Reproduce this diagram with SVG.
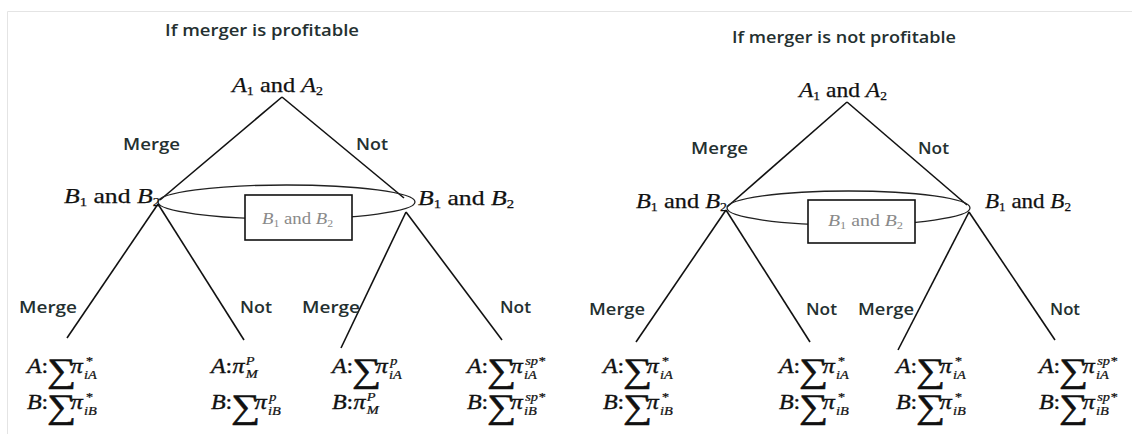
<svg xmlns="http://www.w3.org/2000/svg" width="1132" height="434" viewBox="0 0 1132 434">
<style>
.bg{fill:#ffffff}
.frame{stroke:#e4e4e4;stroke-width:1;fill:none}
.title{font-family:"Open Sans","Liberation Sans",sans-serif;font-size:17px;font-weight:600;fill:#243030}
.lbl{font-family:"Open Sans","Liberation Sans",sans-serif;font-size:17px;font-weight:600;fill:#243030}
.node{font-family:"Liberation Serif",serif;font-size:21px;fill:#111;stroke:#111;stroke-width:0.25}
.it{font-style:italic}
.sub{font-size:12px}
.box{fill:#fff;stroke:#111;stroke-width:1.6}
.boxt{font-family:"Liberation Serif",serif;font-size:16px;fill:#8a8a8a}
.ell{fill:none;stroke:#222;stroke-width:1.3}
.edge{stroke:#111;stroke-width:1.6;fill:none}
.pv{font-family:"Liberation Serif",serif;font-size:20px;font-style:italic;fill:#111;stroke:#111;stroke-width:0.35}
.pc{font-family:"Liberation Serif",serif;font-size:20px;fill:#111;stroke:#111;stroke-width:0.3}
.sig{font-family:"Liberation Serif",serif;font-size:34px;fill:#111;stroke:#111;stroke-width:0.5}
.ps{font-family:"Liberation Serif",serif;font-size:12px;font-style:italic;fill:#111;stroke:#111;stroke-width:0.25}
</style>
<defs>
<g id="sumA"><text class="pv" x="0" y="0">A</text><text class="pc" x="12" y="0">:</text><text class="sig" x="16.5" y="9">∑</text><text class="pv" x="36.5" y="0">π</text></g>
<g id="sumB"><text class="pv" x="0" y="0">B</text><text class="pc" x="12" y="0">:</text><text class="sig" x="16.5" y="9">∑</text><text class="pv" x="36.5" y="0">π</text></g>
<g id="piA"><text class="pv" x="0" y="0">A</text><text class="pc" x="12" y="0">:</text><text class="pv" x="18" y="0">π</text><text class="ps" x="29" y="-8">P</text><text class="ps" x="29" y="5">M</text></g>
<g id="piB"><text class="pv" x="0" y="0">B</text><text class="pc" x="12" y="0">:</text><text class="pv" x="18" y="0">π</text><text class="ps" x="29" y="-8">P</text><text class="ps" x="29" y="5">M</text></g>
</defs>
<rect class="bg" x="0" y="0" width="1132" height="434"/>
<path class="frame" d="M7.5 434 V11.5 H1132"/>

<!-- titles -->
<g id="title-left"><text class="title" x="165" y="36" textLength="194" lengthAdjust="spacingAndGlyphs">If merger is profitable</text></g>
<g id="title-right"><text class="title" x="732" y="43" textLength="224" lengthAdjust="spacingAndGlyphs">If merger is not profitable</text></g>

<!-- connectors and their labels -->
<g id="connectors">
  <line class="edge" x1="282" y1="97" x2="160" y2="200"/>
  <line class="edge" x1="282" y1="97" x2="404" y2="198"/>
  <line class="edge" x1="158" y1="204" x2="67" y2="338"/>
  <line class="edge" x1="158" y1="204" x2="244" y2="340"/>
  <line class="edge" x1="406" y1="212" x2="341" y2="348"/>
  <line class="edge" x1="406" y1="212" x2="502" y2="340"/>
  <line class="edge" x1="847" y1="102" x2="727" y2="207"/>
  <line class="edge" x1="847" y1="102" x2="967" y2="205"/>
  <line class="edge" x1="726" y1="210" x2="636" y2="342"/>
  <line class="edge" x1="726" y1="210" x2="810" y2="342"/>
  <line class="edge" x1="969" y1="212" x2="898" y2="350"/>
  <line class="edge" x1="969" y1="212" x2="1055" y2="340"/>
  <text class="lbl" x="123" y="150" textLength="57" lengthAdjust="spacingAndGlyphs">Merge</text>
  <text class="lbl" x="356" y="150" textLength="32" lengthAdjust="spacingAndGlyphs">Not</text>
  <text class="lbl" x="19" y="313" textLength="58" lengthAdjust="spacingAndGlyphs">Merge</text>
  <text class="lbl" x="240" y="313" textLength="32" lengthAdjust="spacingAndGlyphs">Not</text>
  <text class="lbl" x="302" y="313" textLength="58" lengthAdjust="spacingAndGlyphs">Merge</text>
  <text class="lbl" x="500" y="313" textLength="31" lengthAdjust="spacingAndGlyphs">Not</text>
  <text class="lbl" x="691" y="154" textLength="57" lengthAdjust="spacingAndGlyphs">Merge</text>
  <text class="lbl" x="918" y="154" textLength="31" lengthAdjust="spacingAndGlyphs">Not</text>
  <text class="lbl" x="589" y="315" textLength="56" lengthAdjust="spacingAndGlyphs">Merge</text>
  <text class="lbl" x="806" y="315" textLength="31" lengthAdjust="spacingAndGlyphs">Not</text>
  <text class="lbl" x="858" y="315" textLength="56" lengthAdjust="spacingAndGlyphs">Merge</text>
  <text class="lbl" x="1050" y="315" textLength="30" lengthAdjust="spacingAndGlyphs">Not</text>
</g>

<!-- left tree nodes -->
<g id="L-root"><text class="node" x="232" y="92" textLength="91" lengthAdjust="spacingAndGlyphs"><tspan class="it">A</tspan><tspan class="sub" dy="3">1</tspan><tspan dy="-3"> and </tspan><tspan class="it">A</tspan><tspan class="sub" dy="3">2</tspan></text></g>
<g id="L-B-merge"><text class="node" x="64" y="203" textLength="96" lengthAdjust="spacingAndGlyphs"><tspan class="it">B</tspan><tspan class="sub" dy="3">1</tspan><tspan dy="-3"> and </tspan><tspan class="it">B</tspan><tspan class="sub" dy="3">2</tspan></text></g>
<g id="L-B-not"><text class="node" x="418" y="205" textLength="96" lengthAdjust="spacingAndGlyphs"><tspan class="it">B</tspan><tspan class="sub" dy="3">1</tspan><tspan dy="-3"> and </tspan><tspan class="it">B</tspan><tspan class="sub" dy="3">2</tspan></text></g>
<g id="L-infoset">
  <ellipse class="ell" cx="286.5" cy="202" rx="128.5" ry="17"/>
  <rect class="box" x="245" y="195" width="107" height="45"/>
  <text class="boxt" x="262" y="224" textLength="71" lengthAdjust="spacingAndGlyphs"><tspan class="it">B</tspan><tspan font-size="10" dy="3">1</tspan><tspan dy="-3"> and </tspan><tspan class="it">B</tspan><tspan font-size="10" dy="3">2</tspan></text>
</g>

<!-- left payoffs -->
<g id="L-pay1">
  <g transform="translate(27,373) scale(1.2,1)"><use href="#sumA"/><text class="ps" x="47.5" y="6">iA</text><text class="ps" x="48.5" y="-8">*</text></g>
  <g transform="translate(27,409) scale(1.2,1)"><use href="#sumB"/><text class="ps" x="47.5" y="6">iB</text><text class="ps" x="48.5" y="-8">*</text></g>
</g>
<g id="L-pay2">
  <g transform="translate(211,373) scale(1.2,1)"><use href="#piA"/></g>
  <g transform="translate(211,409) scale(1.2,1)"><use href="#sumB"/><text class="ps" x="47.5" y="6">iB</text><text class="ps" x="48.5" y="-8">p</text></g>
</g>
<g id="L-pay3">
  <g transform="translate(332,373) scale(1.2,1)"><use href="#sumA"/><text class="ps" x="47.5" y="6">iA</text><text class="ps" x="48.5" y="-8">p</text></g>
  <g transform="translate(332,409) scale(1.2,1)"><use href="#piB"/></g>
</g>
<g id="L-pay4">
  <g transform="translate(467,373) scale(1.2,1)"><use href="#sumA"/><text class="ps" x="47.5" y="6">iA</text><text class="ps" x="48.5" y="-8">sp*</text></g>
  <g transform="translate(467,409) scale(1.2,1)"><use href="#sumB"/><text class="ps" x="47.5" y="6">iB</text><text class="ps" x="48.5" y="-8">sp*</text></g>
</g>

<!-- right tree nodes -->
<g id="R-root"><text class="node" x="799" y="97" textLength="88" lengthAdjust="spacingAndGlyphs"><tspan class="it">A</tspan><tspan class="sub" dy="3">1</tspan><tspan dy="-3"> and </tspan><tspan class="it">A</tspan><tspan class="sub" dy="3">2</tspan></text></g>
<g id="R-B-merge"><text class="node" x="636" y="208" textLength="91" lengthAdjust="spacingAndGlyphs"><tspan class="it">B</tspan><tspan class="sub" dy="3">1</tspan><tspan dy="-3"> and </tspan><tspan class="it">B</tspan><tspan class="sub" dy="3">2</tspan></text></g>
<g id="R-B-not"><text class="node" x="985" y="208" textLength="86" lengthAdjust="spacingAndGlyphs"><tspan class="it">B</tspan><tspan class="sub" dy="3">1</tspan><tspan dy="-3"> and </tspan><tspan class="it">B</tspan><tspan class="sub" dy="3">2</tspan></text></g>
<g id="R-infoset">
  <ellipse class="ell" cx="848.5" cy="208" rx="121.5" ry="17"/>
  <rect class="box" x="808" y="200" width="107" height="43"/>
  <text class="boxt" x="828" y="226" textLength="75" lengthAdjust="spacingAndGlyphs" fill="#a0a0a0"><tspan class="it">B</tspan><tspan font-size="10" dy="3">1</tspan><tspan dy="-3"> and </tspan><tspan class="it">B</tspan><tspan font-size="10" dy="3">2</tspan></text>
</g>

<!-- right payoffs -->
<g id="R-pay1">
  <g transform="translate(603,373) scale(1.2,1)"><use href="#sumA"/><text class="ps" x="47.5" y="6">iA</text><text class="ps" x="48.5" y="-8">*</text></g>
  <g transform="translate(603,409) scale(1.2,1)"><use href="#sumB"/><text class="ps" x="47.5" y="6">iB</text><text class="ps" x="48.5" y="-8">*</text></g>
</g>
<g id="R-pay2">
  <g transform="translate(779,373) scale(1.2,1)"><use href="#sumA"/><text class="ps" x="47.5" y="6">iA</text><text class="ps" x="48.5" y="-8">*</text></g>
  <g transform="translate(779,409) scale(1.2,1)"><use href="#sumB"/><text class="ps" x="47.5" y="6">iB</text><text class="ps" x="48.5" y="-8">*</text></g>
</g>
<g id="R-pay3">
  <g transform="translate(896,373) scale(1.2,1)"><use href="#sumA"/><text class="ps" x="47.5" y="6">iA</text><text class="ps" x="48.5" y="-8">*</text></g>
  <g transform="translate(896,409) scale(1.2,1)"><use href="#sumB"/><text class="ps" x="47.5" y="6">iB</text><text class="ps" x="48.5" y="-8">*</text></g>
</g>
<g id="R-pay4">
  <g transform="translate(1039,373) scale(1.2,1)"><use href="#sumA"/><text class="ps" x="47.5" y="6">iA</text><text class="ps" x="48.5" y="-8">sp*</text></g>
  <g transform="translate(1039,409) scale(1.2,1)"><use href="#sumB"/><text class="ps" x="47.5" y="6">iB</text><text class="ps" x="48.5" y="-8">sp*</text></g>
</g>
</svg>
